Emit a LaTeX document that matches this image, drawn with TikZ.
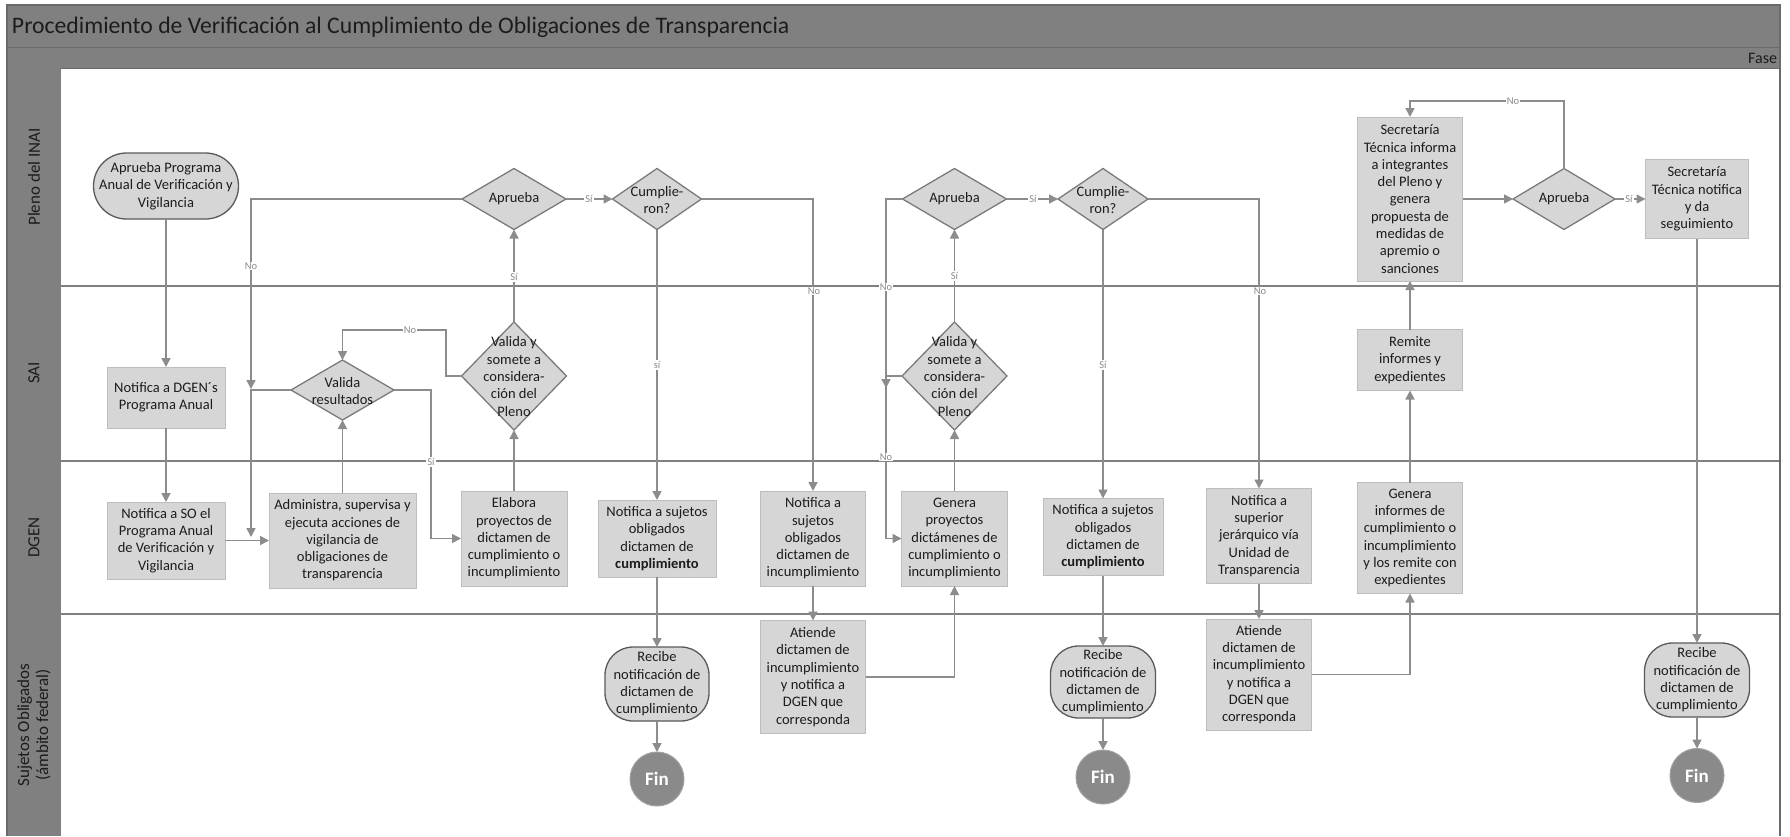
\documentclass[tikz,border=0pt]{standalone}
\usepackage{fontspec}
\setmainfont{Carlito}
\usetikzlibrary{shapes.geometric,arrows.meta}
\definecolor{hdr}{HTML}{808080}
\definecolor{hdrline}{HTML}{6A6A6A}
\definecolor{boxfill}{HTML}{D6D6D6}
\definecolor{boxline}{HTML}{BDBDBD}
\definecolor{dialine}{HTML}{7A7A7A}
\definecolor{ovline}{HTML}{5A5A5A}
\definecolor{connc}{HTML}{8C8C8C}
\definecolor{txtc}{HTML}{1C1C1C}
\definecolor{lblc}{HTML}{8A8A8A}
\definecolor{finfill}{HTML}{8A8A8A}
\begin{document}
\begin{tikzpicture}[x=1pt,y=-1pt,
  every node/.style={inner sep=0pt, outer sep=0pt},
  bodyfont/.style={font=\fontsize{14.5}{17.3}\selectfont},
  proc/.style args={#1x#2}{rectangle, draw=boxline, line width=1pt, fill=boxfill,
     minimum width=#1pt, minimum height=#2pt, text=txtc, align=center, bodyfont},
  dia/.style args={#1x#2}{diamond, draw=dialine, line width=1.3pt, fill=boxfill,
     minimum width=#1pt, minimum height=#2pt},
  dtxt/.style={text=txtc, align=center, bodyfont},
  startov/.style args={#1x#2}{rectangle, rounded corners=33pt, draw=ovline, line width=1.3pt, fill=boxfill,
     minimum width=#1pt, minimum height=#2pt, text=txtc, align=center, bodyfont},
  recov/.style args={#1x#2}{rectangle, rounded corners=28pt, draw=ovline, line width=1.3pt, fill=boxfill,
     minimum width=#1pt, minimum height=#2pt, text=txtc, align=center, bodyfont},
  finc/.style={circle, fill=finfill, draw=finfill!80!white, line width=1pt, minimum size=54pt,
     text=white, font=\fontsize{19}{19}\selectfont\bfseries},
  conn/.style={draw=connc, line width=1.6pt},
  arr/.style={conn, -{Triangle[length=9pt,width=9pt]}},
  lab/.style={fill=white, text=lblc, inner sep=1pt, font=\fontsize{10.5}{11}\selectfont},
  lanetxt/.style={text=txtc, align=center, rotate=90, font=\fontsize{17}{19}\selectfont},
  lanediv/.style={draw=hdr, line width=2pt}
]
\useasboundingbox (0,0) rectangle (1790,836);
% ---------- frame / header ----------
\fill[hdr] (7,5) rectangle (1780,68);
\fill[hdr] (7,68) rectangle (61,836);
\draw[hdrline, line width=1pt] (7,47) -- (1780,47);
\draw[hdrline, line width=1pt] (61,68) -- (1780,68);
\draw[lanediv] (61,285.7) -- (1780,285.7);
\draw[lanediv] (61,461) -- (1780,461);
\draw[lanediv] (61,614) -- (1780,614);
\draw[hdrline, line width=1.5pt] (7,836) -- (7,5) -- (1780,5) -- (1780,836);
\node[anchor=west, text=txtc, font=\fontsize{23.7}{24}\selectfont] (title) at (12,27)
  {Procedimiento de Verificación al Cumplimiento de Obligaciones de Transparencia};
\node[anchor=east, text=txtc, font=\fontsize{16}{16}\selectfont] (fase) at (1777,58) {Fase};
\node[lanetxt] (lp) at (34,177) {Pleno del INAI};
\node[lanetxt] (ls) at (34,373) {SAI};
\node[lanetxt] (ld) at (34,537.5) {DGEN};
\node[lanetxt] (lso) at (34,725) {Sujetos Obligados\\(ámbito federal)};
% ---------- nodes ----------
\node[startov=145x66] (start) at (166,186) {Aprueba Programa\\Anual de Verificación y\\Vigilancia};
\node[proc=118x61] (ndgen) at (166,397.5) {Notifica a DGEN´s\\Programa Anual};
\node[proc=118x77] (nso) at (166,540.5) {Notifica a SO el\\Programa Anual\\de Verificación y\\Vigilancia};
\node[proc=147x95] (adm) at (342.5,540.5) {Administra, supervisa y\\ejecuta acciones de\\vigilancia de\\obligaciones de\\transparencia};
\node[dia=103x60] (vres) at (342.5,390) {};
\node[dtxt] (vrest) at (342.5,391) {Valida\\resultados};
\node[dia=105x108] (vs1) at (514,376) {};
\node[dtxt] (vs1t) at (514,376.5) {Valida y\\somete a\\considera-\\ción del\\Pleno};
\node[dia=104x61] (ap1) at (514,199) {};
\node[dtxt] (ap1t) at (514,199) {Aprueba};
\node[proc=106x95] (elab) at (514,538.5) {Elabora\\proyectos de\\dictamen de\\cumplimiento o\\incumplimiento};
\node[dia=89x61] (cu1) at (657,199) {};
\node[dtxt] (cu1t) at (657,200) {Cumplie-\\ron?};
\node[proc=118x77] (ncum1) at (657,538.5) {Notifica a sujetos\\obligados\\dictamen de\\\textbf{cumplimiento}};
\node[recov=104x74] (rec1) at (657,684) {Recibe\\notificación de\\dictamen de\\cumplimiento};
\node[finc] (fin1) at (657,779) {Fin};
\node[proc=105x95] (ninc) at (813,538.5) {Notifica a\\sujetos\\obligados\\dictamen de\\incumplimiento};
\node[proc=105x113] (at1) at (813,677) {Atiende\\dictamen de\\incumplimiento\\y notifica a\\DGEN que\\corresponda};
\node[proc=106x95] (gen1) at (954.5,538.5) {Genera\\proyectos\\dictámenes de\\cumplimiento o\\incumplimiento};
\node[dia=105x108] (vs2) at (954.5,376) {};
\node[dtxt] (vs2t) at (954.5,376.5) {Valida y\\somete a\\considera-\\ción del\\Pleno};
\node[dia=104x61] (ap2) at (954.5,199) {};
\node[dtxt] (ap2t) at (954.5,199) {Aprueba};
\node[dia=90x61] (cu2) at (1103,199) {};
\node[dtxt] (cu2t) at (1103,200) {Cumplie-\\ron?};
\node[proc=120x77] (ncum2) at (1103,537) {Notifica a sujetos\\obligados\\dictamen de\\\textbf{cumplimiento}};
\node[recov=105x72] (rec2) at (1103,682) {Recibe\\notificación de\\dictamen de\\cumplimiento};
\node[finc] (fin2) at (1103,777) {Fin};
\node[proc=105x95] (nsup) at (1259,536) {Notifica a\\superior\\jerárquico vía\\Unidad de\\Transparencia};
\node[proc=105x111] (at2) at (1259,674.5) {Atiende\\dictamen de\\incumplimiento\\y notifica a\\DGEN que\\corresponda};
\node[proc=105x111] (geninf) at (1410,538) {Genera\\informes de\\cumplimiento o\\incumplimiento\\y los remite con\\expedientes};
\node[proc=105x61] (rem) at (1410,360) {Remite\\informes y\\expedientes};
\node[proc=105x164] (stinf) at (1410,199) {Secretaría\\Técnica informa\\a integrantes\\del Pleno y\\genera\\propuesta de\\medidas de\\apremio o\\sanciones};
\node[dia=102x61] (ap3) at (1564,199) {};
\node[dtxt] (ap3t) at (1564,199) {Aprueba};
\node[proc=103x79] (stnot) at (1697,199) {Secretaría\\Técnica notifica\\y da\\seguimiento};
\node[recov=105x74] (rec3) at (1697,680) {Recibe\\notificación de\\dictamen de\\cumplimiento};
\node[finc] (fin3) at (1697,775.5) {Fin};
% ---------- helper coordinates ----------
\coordinate (j1) at (251,389);
\coordinate (j2) at (251,537);
\coordinate (b1) at (431,538.5);
\coordinate (b2) at (446,330);
\coordinate (b3) at (886,538.5);
\coordinate (j3) at (886,388);
\coordinate (b4) at (1564,101);
% ---------- connectors ----------
\draw[arr] (start.south) -- (ndgen.north);
\draw[arr] (ndgen.south) -- (nso.north);
\draw[arr] (nso.east) -- (adm.west);
\draw[arr] (adm.north) -- (vres.south);
\draw[arr] (vres.west) -| (j2);
\draw[arr] (ap1.west) -| (j1);
\draw[arr] (vres.east) -| (b1) -- (elab.west);
\draw[arr] (elab.north) -- (vs1.south);
\draw[arr] (vs1.west) -| (b2) -| (vres.north);
\draw[arr] (vs1.north) -- (ap1.south);
\draw[arr] (ap1.east) -- (cu1.west);
\draw[arr] (cu1.east) -| (ninc.north);
\draw[arr] (cu1.south) -- (ncum1.north);
\draw[arr] (ncum1.south) -- (rec1.north);
\draw[arr] (rec1.south) -- (fin1.north);
\draw[arr] (ninc.south) -- (at1.north);
\draw[arr] (at1.east) -| (gen1.south);
\draw[arr] (gen1.north) -- (vs2.south);
\draw[arr] (vs2.west) -| (b3) -- (gen1.west);
\draw[arr] (ap2.west) -| (j3);
\draw[arr] (vs2.north) -- (ap2.south);
\draw[arr] (ap2.east) -- (cu2.west);
\draw[arr] (cu2.east) -| (nsup.north);
\draw[arr] (cu2.south) -- (ncum2.north);
\draw[arr] (ncum2.south) -- (rec2.north);
\draw[arr] (rec2.south) -- (fin2.north);
\draw[arr] (nsup.south) -- (at2.north);
\draw[arr] (at2.east) -| (geninf.south);
\draw[arr] (geninf.north) -- (rem.south);
\draw[arr] (rem.north) -- (stinf.south);
\draw[arr] (stinf.east) -- (ap3.west);
\draw[arr] (ap3.north) -- (b4) -| (stinf.north);
\draw[arr] (ap3.east) -- (stnot.west);
\draw[arr] (stnot.south) -- (rec3.north);
\draw[arr] (rec3.south) -- (fin3.north);
% ---------- connector labels ----------
\node[lab] (l1) at (251,266) {No};
\node[lab] (l2) at (431,462) {Sí};
\node[lab] (l3) at (410,330) {No};
\node[lab] (l4) at (514,277) {Sí};
\node[lab] (l5) at (589,199) {Sí};
\node[lab] (l6) at (814,291) {No};
\node[lab] (l7) at (657,365) {sí};
\node[lab] (l8) at (886,287) {No};
\node[lab] (l9) at (886,457) {No};
\node[lab] (l10) at (954.5,276) {Sí};
\node[lab] (l11) at (1033,199) {Sí};
\node[lab] (l12) at (1260,291) {No};
\node[lab] (l13) at (1103,365) {Sí};
\node[lab] (l14) at (1513,101) {No};
\node[lab] (l15) at (1629,199) {Sí};
\end{tikzpicture}
\end{document}
